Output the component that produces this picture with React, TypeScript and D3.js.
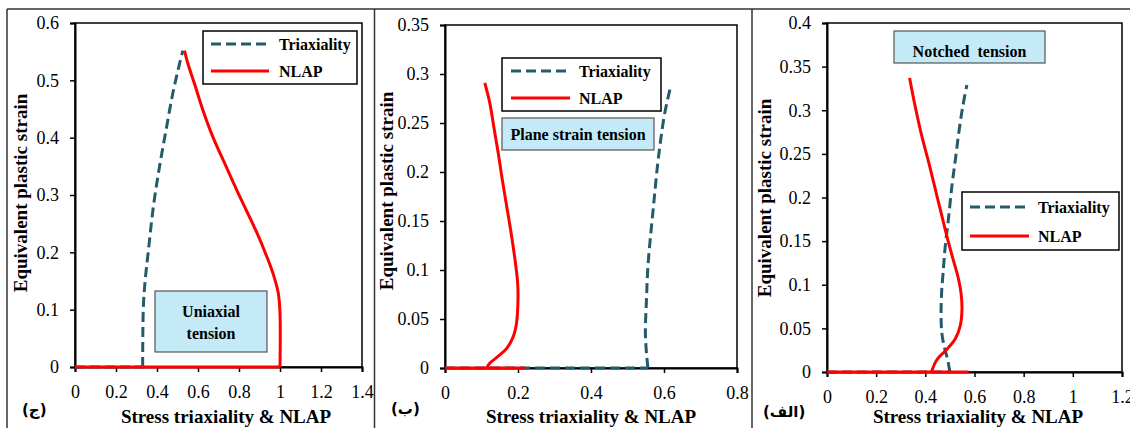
import React, { useEffect, useRef } from 'react';
import * as d3 from 'd3';

const W = 1130, H = 428;

// tick values for the three panels
const uniaxialXTicks = [0, 0.2, 0.4, 0.6, 0.8, 1, 1.2, 1.4];
const uniaxialYTicks = [0, 0.1, 0.2, 0.3, 0.4, 0.5, 0.6];
const planeXTicks = [0, 0.2, 0.4, 0.6, 0.8];
const planeYTicks = [0, 0.05, 0.1, 0.15, 0.2, 0.25, 0.3, 0.35];
const notchedXTicks = [0, 0.2, 0.4, 0.6, 0.8, 1, 1.2];
const notchedYTicks = [0, 0.05, 0.1, 0.15, 0.2, 0.25, 0.3, 0.35, 0.4];

// [stress value, equivalent plastic strain]
const uniaxialTriaxiality: [number, number][] = [
    [0, 0], [0.33, 0], [0.331, 0.06], [0.334, 0.11], [0.342, 0.15], [0.358, 0.203], [0.382, 0.279],
    [0.412, 0.349], [0.444, 0.413], [0.477, 0.477], [0.51, 0.529], [0.526, 0.552]
];
const uniaxialNLAP: [number, number][] = [
    [0, 0], [1, 0], [1, 0.093], [0.992, 0.128], [0.967, 0.162], [0.934, 0.194],
    [0.885, 0.236], [0.804, 0.297], [0.738, 0.349], [0.673, 0.401], [0.624, 0.448],
    [0.583, 0.494], [0.551, 0.529], [0.534, 0.552]
];
const planeTriaxiality: [number, number][] = [
    [0, 0], [0.556, 0], [0.552, 0.015], [0.549, 0.036], [0.552, 0.07], [0.556, 0.104],
    [0.564, 0.138], [0.573, 0.172], [0.582, 0.206], [0.591, 0.233], [0.602, 0.26], [0.618, 0.287]
];
const planeNLAP: [number, number][] = [
    [0, 0], [0.219, 0], [0.114, 0], [0.123, 0.005], [0.146, 0.012], [0.169, 0.02],
    [0.187, 0.032], [0.196, 0.046], [0.2, 0.07], [0.199, 0.087], [0.192, 0.11],
    [0.181, 0.138], [0.169, 0.165], [0.157, 0.192], [0.146, 0.219], [0.135, 0.243],
    [0.123, 0.27], [0.109, 0.291]
];
const notchedTriaxiality: [number, number][] = [
    [0, 0], [0.5, 0], [0.49, 0.015], [0.476, 0.03], [0.467, 0.045], [0.464, 0.065],
    [0.466, 0.09], [0.472, 0.113], [0.481, 0.144], [0.495, 0.178], [0.508, 0.213],
    [0.522, 0.243], [0.536, 0.274], [0.552, 0.304], [0.569, 0.329]
];
const notchedNLAP: [number, number][] = [
    [0, 0], [0.576, 0], [0.425, 0], [0.447, 0.014], [0.488, 0.026], [0.522, 0.038],
    [0.542, 0.053], [0.549, 0.071], [0.545, 0.091], [0.532, 0.11], [0.513, 0.129],
    [0.491, 0.152], [0.468, 0.178], [0.441, 0.209], [0.414, 0.24], [0.386, 0.27],
    [0.359, 0.304], [0.336, 0.337]
];

const seriesNames = ['Triaxiality', 'NLAP'];
const xTitle = 'Stress triaxiality & NLAP';
const yTitle = 'Equivalent plastic strain';

const TRI_COLOR = '#245b6b';
const NLAP_COLOR = '#ff0000';
const NOTE_FILL = '#c4eaf8';
const SERIF = "'Liberation Serif', 'Times New Roman', Times, 'DejaVu Serif', serif";

const panels = [
    {
        tag: '(ج)', tagX: 22, tagY: 415,
        note: ['Uniaxial', 'tension'], noteBox: [155, 291, 112, 61], noteY: [317, 339],
        legend: [203, 31, 154, 53], legendLines: [44, 71], legendX: [211, 269, 279],
        xTicks: uniaxialXTicks, yTicks: uniaxialYTicks,
        tri: uniaxialTriaxiality, nlap: uniaxialNLAP,
        left: 75, right: 362, top: 23, bottom: 367,
        xTitleX: 226, yTitleX: 27, yTitleY: 193
    },
    {
        tag: '(ب)', tagX: 391, tagY: 414,
        note: ['Plane strain tension'], noteBox: [502, 118, 152, 32], noteY: [140],
        legend: [502, 58, 159, 53], legendLines: [71, 98], legendX: [511, 570, 579],
        xTicks: planeXTicks, yTicks: planeYTicks,
        tri: planeTriaxiality, nlap: planeNLAP,
        left: 445, right: 737, top: 25, bottom: 368,
        xTitleX: 591, yTitleX: 393, yTitleY: 191
    },
    {
        tag: '(الف)', tagX: 763, tagY: 417,
        note: ['Notched  tension'], noteBox: [894, 31, 151, 32], noteY: [57],
        legend: [962, 192, 157, 58], legendLines: [207, 236], legendX: [970, 1029, 1038],
        xTicks: notchedXTicks, yTicks: notchedYTicks,
        tri: notchedTriaxiality, nlap: notchedNLAP,
        left: 827, right: 1122, top: 23, bottom: 372,
        xTitleX: 978, yTitleX: 771, yTitleY: 198
    }
];

export default function App() {
    const ref = useRef<SVGSVGElement>(null);

    useEffect(() => {
        const svg = d3.select(ref.current);
        svg.selectAll('*').remove();

        svg.append('rect').attr('width', W).attr('height', H).attr('fill', '#fff');

        // outer frame lines
        const frame = svg.append('g').attr('stroke', '#333').attr('stroke-width', 1.5);
        frame.append('line').attr('x1', 7).attr('x2', W).attr('y1', 9).attr('y2', 9);
        [7, 374.5, 752].forEach(x => {
            frame.append('line').attr('x1', x).attr('x2', x).attr('y1', 9).attr('y2', H);
        });

        panels.forEach(p => {
            const xMax = p.xTicks[p.xTicks.length - 1];
            const yMax = p.yTicks[p.yTicks.length - 1];
            const x = d3.scaleLinear().domain([0, xMax]).range([p.left, p.right]);
            const y = d3.scaleLinear().domain([0, yMax]).range([p.bottom, p.top]);
            const g = svg.append('g');

            // plot box
            g.append('rect')
                .attr('x', p.left).attr('y', p.top)
                .attr('width', p.right - p.left).attr('height', p.bottom - p.top)
                .attr('fill', 'none').attr('stroke', '#000').attr('stroke-width', 1.5);

            const xAxis = g.append('g')
                .attr('transform', 'translate(0,' + p.bottom + ')')
                .call(d3.axisBottom(x).tickValues(p.xTicks).tickSize(5).tickPadding(13)
                    .tickFormat(d => String(d)));
            const yAxis = g.append('g')
                .attr('transform', 'translate(' + p.left + ',0)')
                .call(d3.axisLeft(y).tickValues(p.yTicks).tickSize(5).tickPadding(11)
                    .tickFormat(d => String(d)));
            [xAxis, yAxis].forEach(a => {
                a.attr('font-family', SERIF).attr('font-size', 18);
                a.select('.domain').attr('stroke', '#000').attr('stroke-width', 2);
                a.selectAll('.tick line').attr('stroke', '#000').attr('stroke-width', 1.5);
                a.selectAll('.tick text').attr('fill', '#000');
            });

            const line = d3.line<[number, number]>()
                .x(d => x(d[0]))
                .y(d => y(d[1]));
            const smooth = d3.line<[number, number]>()
                .x(d => x(d[0]))
                .y(d => y(d[1]))
                .curve(d3.curveCatmullRom.alpha(0.5));

            // straight run along the axis, then the smooth branch from its last zero point
            const drawSeries = (pts: [number, number][], color: string, dash: string | null) => {
                let start = 1;
                pts.forEach((d, i) => { if (i > 0 && d[1] === 0) start = i; });
                [line(pts.slice(0, 2)), smooth(pts.slice(start))].forEach(d => {
                    g.append('path')
                        .attr('d', d)
                        .attr('fill', 'none')
                        .attr('stroke', color)
                        .attr('stroke-width', 3)
                        .attr('stroke-dasharray', dash);
                });
            };
            drawSeries(p.tri, TRI_COLOR, '10,5');
            drawSeries(p.nlap, NLAP_COLOR, null);

            // legend
            const [lx, ly, lw, lh] = p.legend;
            g.append('rect')
                .attr('x', lx).attr('y', ly).attr('width', lw).attr('height', lh)
                .attr('fill', '#fff').attr('stroke', '#000').attr('stroke-width', 1.5);
            seriesNames.forEach((name, i) => {
                const yy = p.legendLines[i];
                g.append('line')
                    .attr('x1', p.legendX[0]).attr('x2', p.legendX[1])
                    .attr('y1', yy).attr('y2', yy)
                    .attr('stroke', i === 0 ? TRI_COLOR : NLAP_COLOR)
                    .attr('stroke-width', 3)
                    .attr('stroke-dasharray', i === 0 ? '10,5' : null);
                g.append('text')
                    .attr('x', p.legendX[2]).attr('y', yy + 6)
                    .attr('font-family', SERIF).attr('font-size', 16)
                    .attr('font-weight', 'bold')
                    .text(name);
            });

            // annotation box
            const [nx, ny, nw, nh] = p.noteBox;
            g.append('rect')
                .attr('x', nx).attr('y', ny).attr('width', nw).attr('height', nh)
                .attr('fill', NOTE_FILL).attr('stroke', '#555').attr('stroke-width', 1.2);
            p.note.forEach((t, i) => {
                g.append('text')
                    .attr('x', nx + nw / 2).attr('y', p.noteY[i])
                    .attr('text-anchor', 'middle')
                    .attr('font-family', SERIF).attr('font-size', 16)
                    .attr('font-weight', 'bold').style('white-space', 'pre')
                    .text(t);
            });

            // axis titles
            g.append('text')
                .attr('x', p.xTitleX).attr('y', 423)
                .attr('text-anchor', 'middle')
                .attr('font-family', SERIF).attr('font-size', 19)
                .attr('font-weight', 'bold')
                .text(xTitle);
            g.append('text')
                .attr('transform', 'translate(' + p.yTitleX + ',' + p.yTitleY + ') rotate(-90)')
                .attr('text-anchor', 'middle')
                .attr('font-family', SERIF).attr('font-size', 19)
                .attr('font-weight', 'bold')
                .text(yTitle);

            // panel tag
            g.append('text')
                .attr('x', p.tagX).attr('y', p.tagY)
                .attr('font-family', "'DejaVu Sans', sans-serif").attr('font-size', 15)
                .attr('font-weight', 'bold')
                .text(p.tag);
        });
    }, []);

    return (
        <svg ref={ref} width={W} height={H}
            style={{ position: 'absolute', left: 0, top: 0, display: 'block' }} />
    );
}
